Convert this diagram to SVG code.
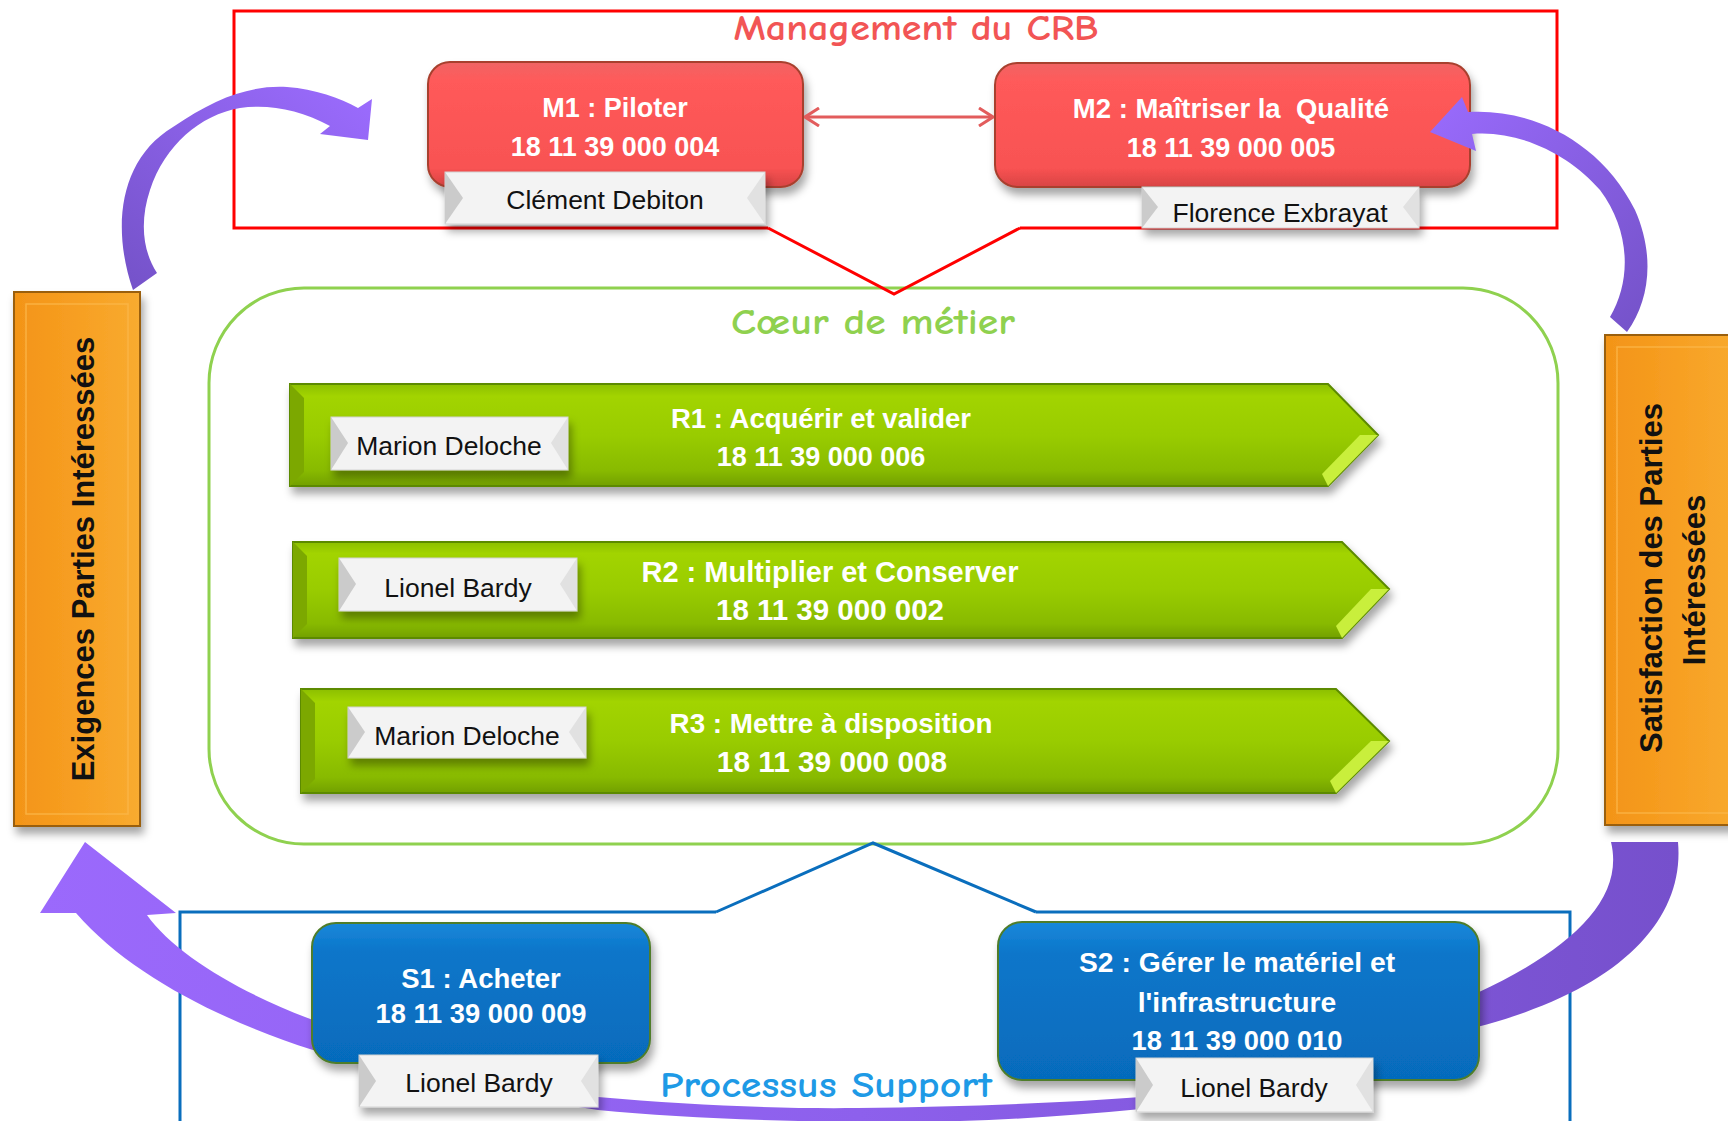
<svg xmlns="http://www.w3.org/2000/svg" width="1728" height="1121" viewBox="0 0 1728 1121">
<style>
.t{font-family:"Liberation Sans",Arial,sans-serif;font-weight:bold;fill:#ffffff;text-anchor:middle}
.nm{font-family:"Liberation Sans",Arial,sans-serif;font-size:26.5px;fill:#111111;text-anchor:middle}
.ttl{font-family:"Comic Sans MS","Comic Neue","DejaVu Sans",sans-serif;font-weight:bold;font-size:36px}
.or{font-family:"Liberation Sans",Arial,sans-serif;font-weight:bold;font-size:31px;fill:#111111;text-anchor:middle}
.lb{fill:#f3f3f3;stroke:#d2d2d2;stroke-width:1}
.bl{fill:#cbcbcb}
.br{fill:#e1e1e1}
.mbox{fill:url(#gRed);stroke:#a8412f;stroke-width:2}
.sbox{fill:url(#gBlue);stroke:#4f7d2c;stroke-width:2}
.rarr{fill:url(#gGreen);stroke:#5c8a00;stroke-width:2}
.facet{fill:#c9ef3c}
.obox{fill:url(#gOrange);stroke:#9a5e10;stroke-width:2}
</style>
<defs>
<filter id="sh" x="-10%" y="-20%" width="130%" height="160%">
<feDropShadow dx="3" dy="7" stdDeviation="4" flood-color="#000" flood-opacity="0.35"/>
</filter>
<linearGradient id="gRed" x1="0" y1="0" x2="0" y2="1">
<stop offset="0" stop-color="#f06464"/><stop offset="0.15" stop-color="#ff5a5a"/><stop offset="0.85" stop-color="#f85252"/><stop offset="1" stop-color="#d84444"/>
</linearGradient>
<linearGradient id="gBlue" x1="0" y1="0" x2="0" y2="1">
<stop offset="0" stop-color="#1a88da"/><stop offset="0.2" stop-color="#0b76ca"/><stop offset="1" stop-color="#066bbc"/>
</linearGradient>
<linearGradient id="gGreen" x1="0" y1="0" x2="0" y2="1">
<stop offset="0" stop-color="#8cbf00"/><stop offset="0.12" stop-color="#a2d400"/><stop offset="0.5" stop-color="#99cc00"/><stop offset="0.85" stop-color="#88ba00"/><stop offset="1" stop-color="#72a000"/>
</linearGradient>
<linearGradient id="gOrange" x1="0" y1="0" x2="1" y2="0">
<stop offset="0" stop-color="#f39418"/><stop offset="0.5" stop-color="#f79f22"/><stop offset="1" stop-color="#f8ab30"/>
</linearGradient>
<linearGradient id="gPurTL" x1="1" y1="0" x2="0" y2="1">
<stop offset="0" stop-color="#9c6cff"/><stop offset="1" stop-color="#7452c8"/>
</linearGradient>
<linearGradient id="gPurTR" x1="0" y1="0" x2="1" y2="1">
<stop offset="0" stop-color="#9a6bfd"/><stop offset="1" stop-color="#7452c8"/>
</linearGradient>
<linearGradient id="gPurB" x1="0" y1="0" x2="1" y2="0">
<stop offset="0" stop-color="#9b69fc"/><stop offset="0.5" stop-color="#8d60ec"/><stop offset="1" stop-color="#7650cc"/>
</linearGradient>
<marker id="chev" viewBox="0 0 16 20" refX="15" refY="10" markerWidth="16" markerHeight="20" markerUnits="userSpaceOnUse" orient="auto-start-reverse">
<path d="M1,1 L15,10 L1,19" fill="none" stroke="#e25c5c" stroke-width="3"/>
</marker>
</defs>
<rect x="0" y="0" width="1728" height="1121" fill="#ffffff"/>

<g id="frame-management">
<path d="M768,228 H234 V11 H1557 V228 H1020" fill="none" stroke="#ff0000" stroke-width="3"/>
<text class="ttl" x="916" y="40" fill="#f25555" text-anchor="middle" textLength="365" lengthAdjust="spacingAndGlyphs">Management du CRB</text>
</g>
<g id="frame-coeur">
<rect x="209" y="288" width="1349" height="556" rx="95" ry="95" fill="none" stroke="#8fd14f" stroke-width="3"/>
<text class="ttl" x="873" y="334" fill="#8fd14f" text-anchor="middle" textLength="284" lengthAdjust="spacingAndGlyphs">Cœur de métier</text>
</g>
<g id="frame-support">
<path d="M716,912 H180 V1125 M1570,1125 V912 H1036" fill="none" stroke="#0a6ebd" stroke-width="3"/>
</g>

<g id="M1">
<rect class="mbox" x="428" y="62" width="375" height="125" rx="22" filter="url(#sh)"/>
<text class="t" x="615" y="117" font-size="27">M1 : Piloter</text>
<text class="t" x="615" y="156" font-size="27">18 11 39 000 004</text>
<g filter="url(#sh)">
<rect class="lb" x="445" y="172" width="320" height="52"/>
<polygon class="bl" points="445,172 463,198 445,224"/>
<polygon class="br" points="765,172 747,198 765,224"/>
</g>
<text class="nm" x="605" y="209">Clément Debiton</text>
</g>
<g id="M2">
<rect class="mbox" x="995" y="63" width="475" height="124" rx="22" filter="url(#sh)"/>
<text class="t" x="1231" y="118" font-size="27.5" xml:space="preserve">M2 : Maîtriser la  Qualité</text>
<text class="t" x="1231" y="157" font-size="27">18 11 39 000 005</text>
<g filter="url(#sh)">
<rect class="lb" x="1142" y="187" width="277" height="41"/>
<polygon class="bl" points="1142,187 1158,207 1142,228"/>
<polygon class="br" points="1419,187 1403,207 1419,228"/>
</g>
<text class="nm" x="1280" y="222">Florence Exbrayat</text>
</g>

<g id="connectors">
<path d="M768,228 L894,294 L1020,228" fill="none" stroke="#ff0000" stroke-width="3"/>
<path d="M716,912 L873,843 L1036,912" fill="none" stroke="#0a6ebd" stroke-width="3"/>
<line x1="805" y1="117" x2="993" y2="117" stroke="#e25c5c" stroke-width="3" marker-start="url(#chev)" marker-end="url(#chev)"/>
<path id="arrow-top-left" d="M133,290 C112,230 118,160 173,127 C215,98 250,85 287,87 C315,89 340,98 358,108 L372,99 L368,140 L320,134 L330,126 C300,110 270,104 240,108 C200,115 165,145 150,190 C140,220 142,250 157,273 Z" fill="url(#gPurTL)"/>
<path id="arrow-top-right" d="M1610,317 C1632,280 1630,230 1600,190 C1570,155 1520,130 1472,134 L1476,151 L1430,132 L1462,97 L1468,112 C1530,108 1600,140 1635,210 C1655,255 1650,300 1627,332 Z" fill="url(#gPurTR)"/>
<path id="arrow-bottom" d="M85,842 L176,913 L147,915 C175,955 245,995 313,1020 C420,1058 520,1085 598,1097 C690,1105 780,1109 858,1108 C960,1107 1060,1103 1141,1097 C1280,1075 1400,1030 1477,993 C1570,950 1625,900 1611,842 L1678,842 C1685,920 1620,990 1477,1027 C1380,1060 1260,1095 1141,1109 C1040,1119 950,1123 858,1122 C760,1121 670,1117 598,1110 C500,1095 400,1075 313,1050 C220,1020 130,975 76,913 L40,913 Z" fill="url(#gPurB)"/>
</g>

<g id="R1">
<polygon class="rarr" points="290,384 1328,384 1378,435 1328,486 290,486" filter="url(#sh)"/>
<polygon class="facet" points="1328,486 1378,435 1360,435 1322,474"/>
<polygon points="290,384 304,398 304,472 290,486" fill="#7ca800"/>
<text class="t" x="821" y="428" font-size="27.5">R1 : Acquérir et valider</text>
<text class="t" x="821" y="466" font-size="27">18 11 39 000 006</text>
<g filter="url(#sh)">
<rect class="lb" x="331" y="417" width="237" height="53"/>
<polygon class="bl" points="331,417 348,443 331,470"/>
<polygon class="br" points="568,417 551,443 568,470"/>
</g>
<text class="nm" x="449" y="455">Marion Deloche</text>
</g>
<g id="R2">
<polygon class="rarr" points="293,542 1342,542 1389,589 1342,638 293,638" filter="url(#sh)"/>
<polygon class="facet" points="1342,638 1389,589 1371,589 1336,626"/>
<polygon points="293,542 307,556 307,624 293,638" fill="#7ca800"/>
<text class="t" x="830" y="582" font-size="29">R2 : Multiplier et Conserver</text>
<text class="t" x="830" y="620" font-size="29.5">18 11 39 000 002</text>
<g filter="url(#sh)">
<rect class="lb" x="339" y="558" width="238" height="53"/>
<polygon class="bl" points="339,558 356,584 339,611"/>
<polygon class="br" points="577,558 560,584 577,611"/>
</g>
<text class="nm" x="458" y="597">Lionel Bardy</text>
</g>
<g id="R3">
<polygon class="rarr" points="301,689 1336,689 1389,741 1336,793 301,793" filter="url(#sh)"/>
<polygon class="facet" points="1336,793 1389,741 1371,741 1330,781"/>
<polygon points="301,689 315,703 315,779 301,793" fill="#7ca800"/>
<text class="t" x="831" y="733" font-size="27.8">R3 : Mettre à disposition</text>
<text class="t" x="832" y="772" font-size="29.8">18 11 39 000 008</text>
<g filter="url(#sh)">
<rect class="lb" x="348" y="707" width="238" height="51"/>
<polygon class="bl" points="348,707 365,732 348,758"/>
<polygon class="br" points="586,707 569,732 586,758"/>
</g>
<text class="nm" x="467" y="745">Marion Deloche</text>
</g>

<g id="S1">
<rect class="sbox" x="312" y="923" width="338" height="140" rx="24" filter="url(#sh)"/>
<text class="t" x="481" y="988" font-size="27.5">S1 : Acheter</text>
<text class="t" x="481" y="1023" font-size="27.3">18 11 39 000 009</text>
<g filter="url(#sh)">
<rect class="lb" x="359" y="1055" width="239" height="52"/>
<polygon class="bl" points="359,1055 376,1081 359,1107"/>
<polygon class="br" points="598,1055 581,1081 598,1107"/>
</g>
<text class="nm" x="479" y="1092">Lionel Bardy</text>
</g>
<g id="S2">
<rect class="sbox" x="998" y="922" width="481" height="158" rx="24" filter="url(#sh)"/>
<text class="t" x="1237" y="972" font-size="28.3">S2 : Gérer le matériel et</text>
<text class="t" x="1237" y="1012" font-size="28.3">l'infrastructure</text>
<text class="t" x="1237" y="1050" font-size="27.3">18 11 39 000 010</text>
<g filter="url(#sh)">
<rect class="lb" x="1136" y="1058" width="237" height="54"/>
<polygon class="bl" points="1136,1058 1153,1085 1136,1112"/>
<polygon class="br" points="1373,1058 1356,1085 1373,1112"/>
</g>
<text class="nm" x="1254" y="1097">Lionel Bardy</text>
</g>
<g id="support-title">
<text class="ttl" x="826" y="1097" fill="#1e9ae6" text-anchor="middle" textLength="332" lengthAdjust="spacingAndGlyphs">Processus Support</text>
</g>

<g id="exigences">
<rect class="obox" x="14" y="292" width="126" height="534" filter="url(#sh)"/>
<rect x="26" y="304" width="102" height="510" fill="none" stroke="#fbb84a" stroke-width="1.5" opacity="0.8"/>
<text class="or" transform="translate(94,559) rotate(-90)">Exigences Parties Intéressées</text>
</g>
<g id="satisfaction">
<rect class="obox" x="1605" y="335" width="140" height="490" filter="url(#sh)"/>
<rect x="1617" y="347" width="120" height="466" fill="none" stroke="#fbb84a" stroke-width="1.5" opacity="0.8"/>
<text class="or" transform="translate(1662,578) rotate(-90)">Satisfaction des Parties</text>
<text class="or" transform="translate(1705,580) rotate(-90)">Intéressées</text>
</g>
</svg>
